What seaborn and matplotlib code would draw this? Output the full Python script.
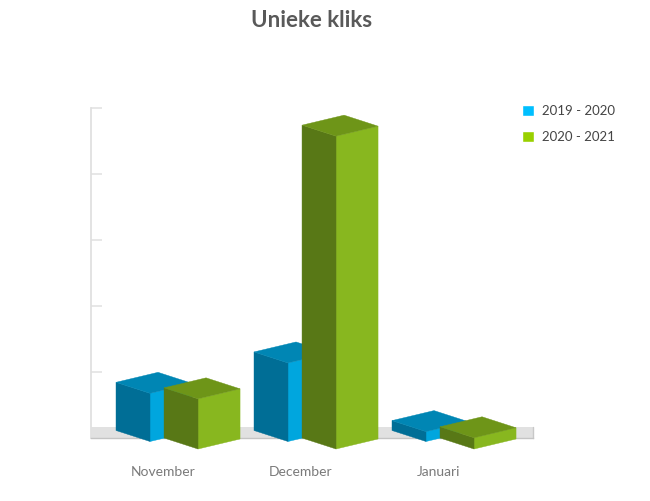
import matplotlib
matplotlib.use("Agg")
import matplotlib.pyplot as plt
import pandas as pd
import seaborn as sns
from matplotlib.patches import Polygon
from matplotlib.transforms import Affine2D, IdentityTransform, blended_transform_factory

months = ["November", "December", "Januari"]
clicks_2019 = [73, 119, 15]
clicks_2020 = [76, 474, 17]
seasons = ["2019 - 2020", "2020 - 2021"]
y_ticks = [0, 100, 200, 300, 400, 500]

legend_colors = ["#00BFFF", "#99D000"]
front_colors = ["#00A6DE", "#88B71F"]
side_colors = ["#006E96", "#587816"]
top_colors = ["#0086B4", "#6E9518"]

# 3d look, all in pixels
shift_x = 32
shift_y = [-3.5, -11]
depth = (-34, 11)
rise = 10

sns.set_style("white")
plt.rcParams["font.family"] = ["Lato", "DejaVu Sans"]

df = pd.DataFrame({
    "month": months * 2,
    "clicks": clicks_2019 + clicks_2020,
    "season": [seasons[0]] * 3 + [seasons[1]] * 3,
})

fig = plt.figure(figsize=(6.5, 5.01), dpi=100)
ax = fig.add_axes([91 / 650, 63 / 501, 442 / 650, 330 / 501])

sns.barplot(
    data=df,
    x="month",
    y="clicks",
    hue="season",
    palette=legend_colors,
    saturation=1,
    width=0.696,
    gap=0.125,
    ax=ax,
)

ax.set_xlim(-0.522, 2.681)
ax.set_ylim(0, 500)
ax.set_xlabel("")
ax.set_ylabel("")
ax.set_yticks(y_ticks)
ax.set_yticklabels([])
ax.tick_params(axis="y", direction="in", length=8, width=1.1, color="#E0E0E0", left=True)
ax.tick_params(axis="x", length=0, pad=20, labelsize=10, labelcolor="#7A7A7A")

sns.despine(ax=ax, top=True, right=True)
ax.spines["left"].set_color("#E0E0E0")
ax.spines["left"].set_linewidth(1.3)
ax.spines["bottom"].set_color("#C4C4C4")
ax.spines["bottom"].set_linewidth(1)

# floor
ax.axhspan(0, 17, facecolor="#E1E1E1", edgecolor="none", zorder=1)
ax.plot(
    [1, 1], [0, 17], color="#C8C8C8", lw=1, clip_on=False, zorder=1,
    transform=blended_transform_factory(ax.transAxes, ax.transData),
)

for i, bars in enumerate(ax.containers):
    for patch in bars:
        box = patch.get_window_extent()
        k = rise / box.width
        # shear the seaborn bar into the right hand face of the box
        shear = Affine2D.from_values(1, k, 0, 1, shift_x, shift_y[i] - k * box.x0)
        patch.set_transform(ax.transData + shear)
        patch.set_facecolor(front_colors[i])
        patch.set_edgecolor(front_colors[i])
        patch.set_linewidth(0.3)
        patch.set_clip_on(False)
        patch.set_zorder(4 + i)

        x0 = box.x0 + shift_x
        x1 = box.x1 + shift_x
        y0 = box.y0 + shift_y[i]
        y1 = box.y1 + shift_y[i]

        side = [
            (x0, y0),
            (x0, y1),
            (x0 + depth[0], y1 + depth[1]),
            (x0 + depth[0], y0 + depth[1]),
        ]
        top = [
            (x0, y1),
            (x0 + depth[0], y1 + depth[1]),
            (x1 + depth[0], y1 + depth[1] + rise),
            (x1, y1 + rise),
        ]
        for points, color in [(side, side_colors[i]), (top, top_colors[i])]:
            ax.add_patch(Polygon(
                points,
                closed=True,
                facecolor=color,
                edgecolor=color,
                linewidth=0.3,
                transform=IdentityTransform(),
                clip_on=False,
                zorder=4 + i,
            ))

fig.text(
    312 / 650, 474 / 501, "Unieke kliks",
    ha="center", va="baseline", fontsize=16, fontweight="bold", color="#595959",
)

sns.move_legend(
    ax,
    "upper left",
    bbox_to_anchor=(522 / 650, 396 / 501),
    bbox_transform=fig.transFigure,
    title=None,
    frameon=False,
    fontsize=9.5,
    labelcolor="#444444",
    handlelength=0.91,
    handleheight=0.91,
    handletextpad=0.6,
    labelspacing=1.03,
    borderpad=0,
    borderaxespad=0,
)

fig.savefig("out.png", dpi=100)
plt.close(fig)
